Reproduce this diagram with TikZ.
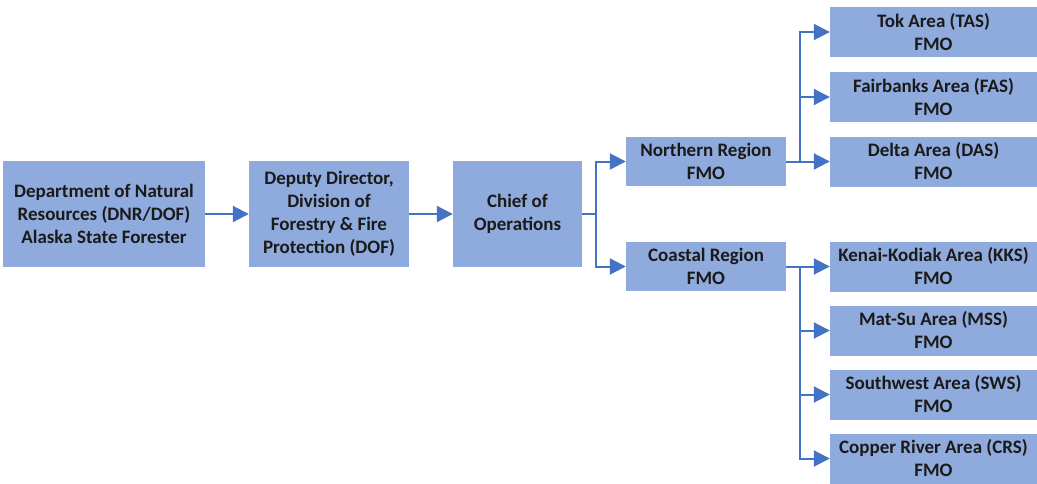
\documentclass[tikz,border=0pt]{standalone}
\usepackage{fontspec}
\setmainfont{Carlito}
\usetikzlibrary{arrows.meta}
\definecolor{boxfill}{HTML}{8FAADC}
\definecolor{linkblue}{HTML}{4472C4}
\definecolor{boxtext}{HTML}{1A1A1A}
\tikzset{
  orgbox/.style={fill=boxfill, text=boxtext, align=center, inner sep=0pt,
    font=\fontsize{19}{23}\selectfont\bfseries},
  topbox/.style={orgbox, minimum height=106pt},
  regionbox/.style={orgbox, minimum width=160pt, minimum height=49pt},
  areabox/.style={orgbox, minimum width=207pt, minimum height=50pt},
  link/.style={linkblue, line width=2pt, -{Triangle[length=16pt, width=16pt]}}
}

\begin{document}
\begin{tikzpicture}[x=1pt, y=-1pt]

  \useasboundingbox (0, 0) rectangle (1037, 483);

  \node[topbox, minimum width=202pt] (dnr) at (104, 214)
    {Department of Natural\\Resources (DNR/DOF)\\Alaska State Forester};
  \node[topbox, minimum width=160pt] (deputy) at (329, 214)
    {Deputy Director,\\Division of\\Forestry \& Fire\\Protection (DOF)};
  \node[topbox, minimum width=129pt] (chief) at (517.5, 214)
    {Chief of\\Operations};

  \node[regionbox] (north) at (706, 161.5) {Northern Region\\FMO};
  \node[regionbox] (coast) at (706, 266.5) {Coastal Region\\FMO};

  \draw[link] (dnr) -- (deputy);
  \draw[link] (deputy) -- (chief);
  \draw[link] (chief.east) -- ++(14, 0) |- (north.west);
  \draw[link] (chief.east) -- ++(14, 0) |- (coast.west);

  \foreach \name/\y/\area in {tas/32/Tok Area (TAS), fas/97/Fairbanks Area (FAS),
                              das/161.5/Delta Area (DAS)} {
    \node[areabox] (\name) at (933.5, \y) {\area\\FMO};
    \draw[link] (north.east) -- ++(14, 0) |- (\name.west);
  }

  \foreach \name/\y/\area in {kks/266.5/Kenai-Kodiak Area (KKS), mss/330.5/Mat-Su Area (MSS),
                              sws/394.5/Southwest Area (SWS), crs/458.5/Copper River Area (CRS)} {
    \node[areabox] (\name) at (933.5, \y) {\area\\FMO};
    \draw[link] (coast.east) -- ++(14, 0) |- (\name.west);
  }

\end{tikzpicture}
\end{document}
